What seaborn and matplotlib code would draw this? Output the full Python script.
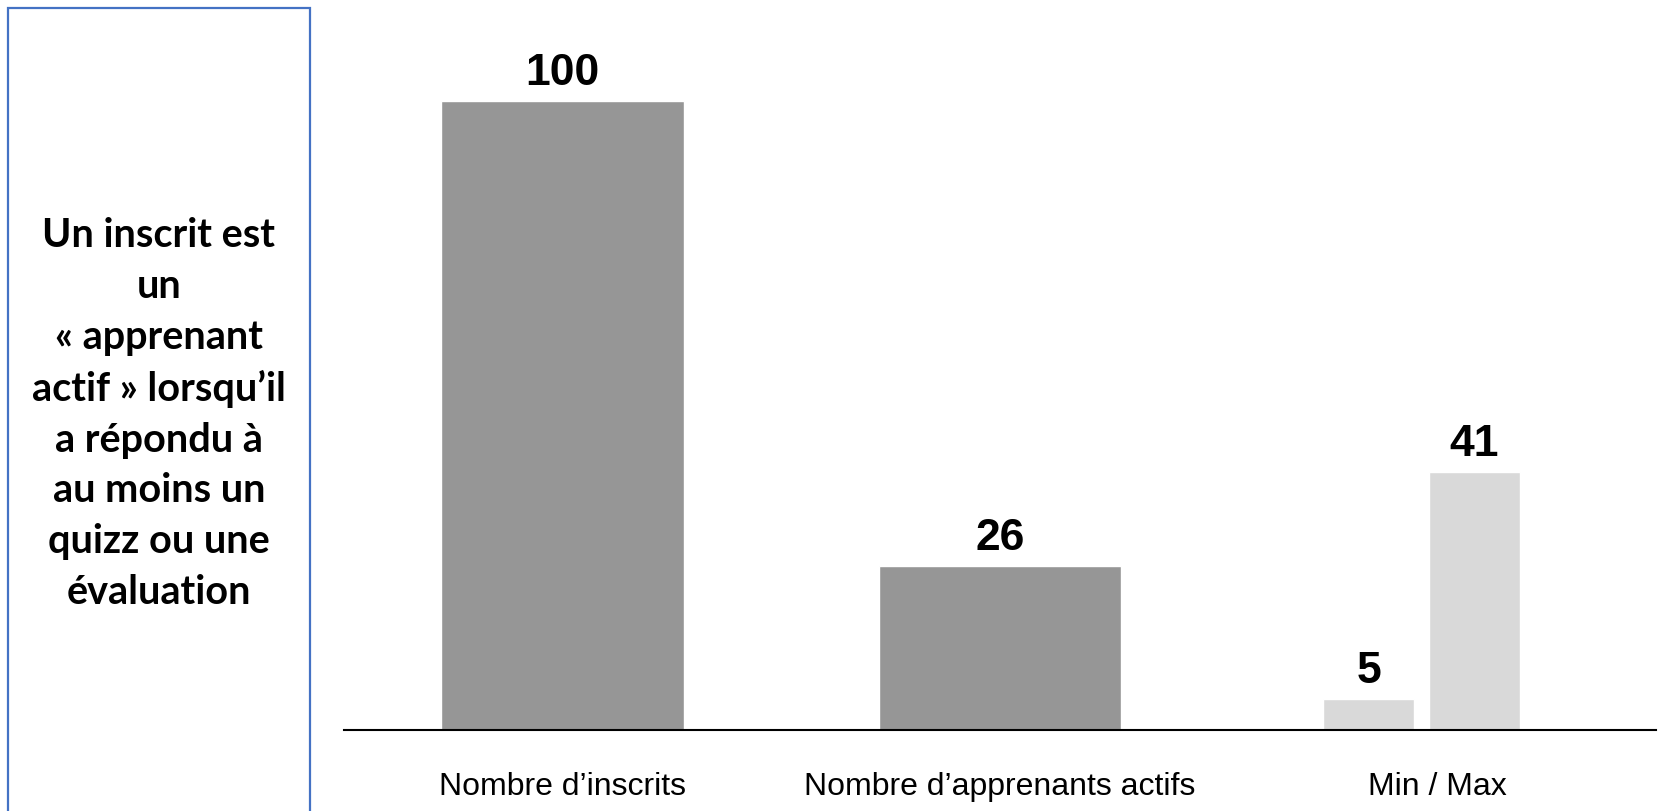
import matplotlib
matplotlib.use("Agg")
import matplotlib.pyplot as plt
import seaborn as sns
import pandas as pd
from matplotlib.patches import Rectangle

# ---- data ----
categories = ["Nombre d’inscrits", "Nombre d’apprenants actifs", "Min / Max"]
main_values = [100, 26]
minmax_series = ["Min", "Max"]
minmax_values = [5, 41]
note_lines = ["Un inscrit est", "un", "« apprenant", "actif » lorsqu’il",
              "a répondu à", "au moins un", "quizz ou une", "évaluation"]

DARK = "#969696"
LIGHT = "#d9d9d9"
BLUE = "#4472C4"
W, H = 1663, 811

sns.set_theme(style="white")
plt.rcParams['font.family'] = ['Liberation Sans', 'DejaVu Sans']

fig = plt.figure(figsize=(W / 100, H / 100), dpi=100)
fig.patch.set_facecolor("white")
ax = fig.add_axes([344 / W, 81 / H, 1312 / W, 692 / H])

main_df = pd.DataFrame({"categorie": categories[:2], "valeur": main_values})
mm_df = pd.DataFrame({"categorie": [categories[2]] * len(minmax_series),
                      "serie": minmax_series, "valeur": minmax_values})

sns.barplot(data=main_df, x="categorie", y="valeur", order=categories,
            color=DARK, saturation=1, width=0.555, errorbar=None, ax=ax)
sns.barplot(data=mm_df, x="categorie", y="valeur", hue="serie",
            hue_order=minmax_series, order=categories,
            palette=[LIGHT, LIGHT], saturation=1, width=0.484, gap=0.14,
            errorbar=None, legend=False, ax=ax)

# slight left offset of the min/max pair as in the original layout
pair_offset = -0.036
for cont in ax.containers[1:]:
    for p in cont.patches:
        p.set_x(p.get_x() + pair_offset)

for cont in ax.containers:
    ax.bar_label(cont, fmt="%d", padding=5, fontsize=32, fontweight="bold",
                 color="black")

ax.set_xlim(-0.5, 2.5)
ax.set_ylim(0, 110)
ax.set_yticks([])
ax.set_xlabel("")
ax.set_ylabel("")
for s in ["left", "top", "right"]:
    ax.spines[s].set_visible(False)
ax.spines["bottom"].set_color("black")
ax.spines["bottom"].set_linewidth(1.5)
ax.tick_params(axis="x", length=0, pad=30, labelsize=23, labelcolor="black")
ax.set_facecolor("white")

# left note box
box = Rectangle((8 / W, -0.02), (310 - 8) / W, (H - 8) / H + 0.02,
                transform=fig.transFigure, fill=False, edgecolor=BLUE,
                linewidth=1.6)
fig.add_artist(box)
fig.text(159 / W, 1 - 414 / H, "\n".join(note_lines), ha="center",
         va="center", fontsize=28.5, fontweight="bold",
         family=["Lato", "DejaVu Sans"], linespacing=1.455, color="black")

fig.savefig("out.png", dpi=100, facecolor="white")
